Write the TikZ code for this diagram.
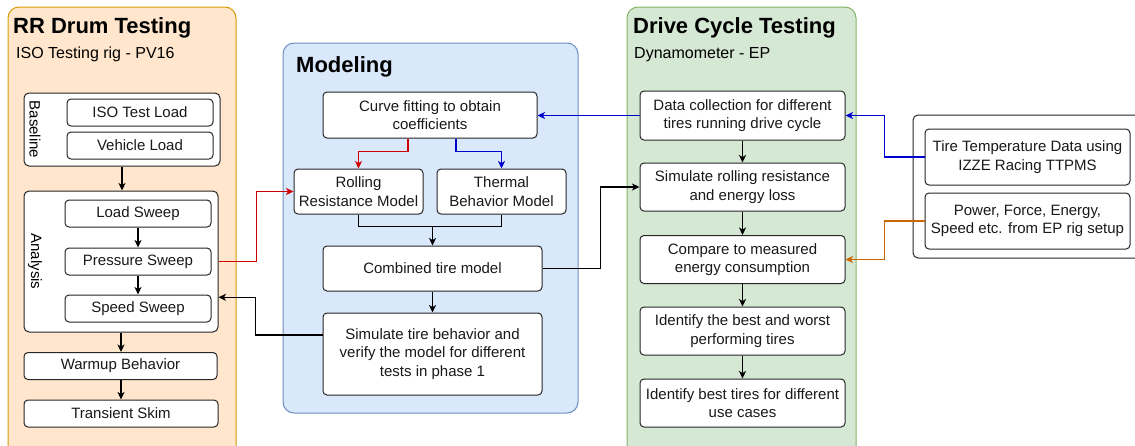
\documentclass[tikz,border=0pt]{standalone}
\usepackage{fontspec}
\setmainfont{Liberation Sans}
\usetikzlibrary{arrows.meta,calc}
\definecolor{orfill}{HTML}{FFE6CC}
\definecolor{ordraw}{HTML}{D79B00}
\definecolor{blfill}{HTML}{DAE8FC}
\definecolor{bldraw}{HTML}{6C8EBF}
\definecolor{grfill}{HTML}{D5E8D4}
\definecolor{grdraw}{HTML}{82B366}
\definecolor{redarr}{HTML}{D00000}
\definecolor{bluearr}{HTML}{0000CC}
\definecolor{orarr}{HTML}{CC6600}
\tikzset{
  box/.style={draw=black!85, fill=white, rounded corners=4pt, line width=1pt, align=center, inner sep=1pt, text=black!90, font=\fontsize{15}{18.5}\selectfont},
  grp/.style={draw=black!85, fill=white, rounded corners=5pt, line width=1pt},
  panel/.style={rounded corners=11pt, line width=1pt, inner sep=0pt},
  arr/.style={line width=1.2pt, -{Stealth[length=7.5pt,width=7pt,inset=2pt]}},
  ln/.style={line width=1.2pt},
  ttl/.style={anchor=west, inner sep=0pt, font=\fontsize{22}{26}\selectfont\bfseries},
  sub/.style={anchor=west, inner sep=0pt, font=\fontsize{16}{19}\selectfont},
  vlab/.style={rotate=-90, inner sep=0pt, font=\fontsize{15}{18}\selectfont}
}
\begin{document}
\begin{tikzpicture}[x=1pt,y=-1pt]
\useasboundingbox (0,0) rectangle (1135,445);
\clip (0,0) rectangle (1135,445);
% panels
\node[panel, fill=orfill, draw=ordraw, minimum width=228, minimum height=480] (drum) at (122,247) {};
\node[panel, fill=blfill, draw=bldraw, minimum width=295, minimum height=370] (model) at (430.5,228) {};
\node[panel, fill=grfill, draw=grdraw, minimum width=229, minimum height=480] (drive) at (741.5,247) {};
\node[grp, minimum width=237, minimum height=143] (ext) at (1031.5,186.5) {};
% titles
\node[ttl] (t1) at (13,27.5) {RR Drum Testing};
\node[sub] (s1) at (16,54.5) {ISO Testing rig - PV16};
\node[ttl] (t2) at (296,66.5) {Modeling};
\node[ttl] (t3) at (633,27.5) {Drive Cycle Testing};
\node[sub] (s3) at (634,54.5) {Dynamometer - EP};
% left column
\node[grp, minimum width=196, minimum height=73] (base) at (122,129.5) {};
\node[vlab] (baselab) at (35,129.5) {Baseline};
\node[box, minimum width=146, minimum height=27] (iso) at (140,112.5) {ISO Test Load};
\node[box, minimum width=146, minimum height=27] (veh) at (140,145.5) {Vehicle Load};
\node[grp, minimum width=194, minimum height=141] (ana) at (121,261.5) {};
\node[vlab] (analab) at (35,261.5) {Analysis};
\node[box, minimum width=146, minimum height=27] (load) at (138,213.5) {Load Sweep};
\node[box, minimum width=146, minimum height=27] (press) at (138,261.5) {Pressure Sweep};
\node[box, minimum width=146, minimum height=27] (speed) at (138,308.5) {Speed Sweep};
\node[box, minimum width=193, minimum height=27] (warm) at (120.5,366) {Warmup Behavior};
\node[box, minimum width=194, minimum height=27] (trans) at (121,413.5) {Transient Skim};
% modeling
\node[box, minimum width=214, minimum height=46] (curve) at (430,115) {Curve fitting to obtain\\coefficients};
\node[box, minimum width=129, minimum height=45] (roll) at (358.5,191.5) {Rolling\\Resistance Model};
\node[box, minimum width=129, minimum height=45] (therm) at (501.5,191.5) {Thermal\\Behavior Model};
\node[box, minimum width=219, minimum height=45] (comb) at (432.5,268.5) {Combined tire model};
\node[box, minimum width=219, minimum height=82] (sim) at (432.5,354) {Simulate tire behavior and\\verify the model for different\\tests in phase 1};
% drive cycle
\node[box, minimum width=205, minimum height=49] (data) at (742.5,115.5) {Data collection for different\\tires running drive cycle};
\node[box, minimum width=205, minimum height=48] (simr) at (742.5,187) {Simulate rolling resistance\\and energy loss};
\node[box, minimum width=205, minimum height=48] (comp) at (742.5,259.5) {Compare to measured\\energy consumption};
\node[box, minimum width=205, minimum height=48] (id1) at (742.5,331) {Identify the best and worst\\performing tires};
\node[box, minimum width=205, minimum height=48] (id2) at (742.5,403) {Identify best tires for different\\use cases};
% external
\node[box, minimum width=205, minimum height=56] (tire) at (1027.5,157) {Tire Temperature Data using\\IZZE Racing TTPMS};
\node[box, minimum width=205, minimum height=56] (power) at (1027.5,221) {Power, Force, Energy,\\Speed etc. from EP rig setup};
% connectors left
\draw[arr] (base.south) -- (base.south |- ana.north);
\draw[arr] (load) -- (press);
\draw[arr] (press) -- (speed);
\draw[arr] (ana.south) -- (ana.south |- warm.north);
\draw[arr] (warm.south -| ana.south) -- (ana.south |- trans.north);
% cross connectors
\draw[arr, redarr] (ana.east |- press.east) -- ++(38,0) |- (roll.west);
\draw[arr] ($(sim.north west)!0.27!(sim.south west)$) -- ++(-67,0) |- ($(ana.north east)!0.752!(ana.south east)$);
\draw[arr, redarr] ([xshift=-22pt]curve.south) -- ++(0,13) -| (roll.north);
\draw[arr, bluearr] ([xshift=26pt]curve.south) -- ++(0,13) -| (therm.north);
\draw[ln] (roll.south) -- ++(0,12) coordinate (j1) -| (therm.south);
\draw[arr] (j1 -| comb.north) -- (comb.north);
\draw[arr] (comb) -- (sim);
\draw[arr, bluearr] (data.west) -- (data.west -| curve.east);
\draw[arr] (comb.east) -- ++(58,0) |- (simr.west);
\draw[arr] (data) -- (simr);
\draw[arr] (simr) -- (comp);
\draw[arr] (comp) -- (id1);
\draw[arr] (id1) -- (id2);
\draw[arr, bluearr] (tire.west) -- ++(-40,0) |- (data.east);
\draw[arr, orarr] (power.west) -- ++(-40,0) |- (comp.east);
\end{tikzpicture}
\end{document}
